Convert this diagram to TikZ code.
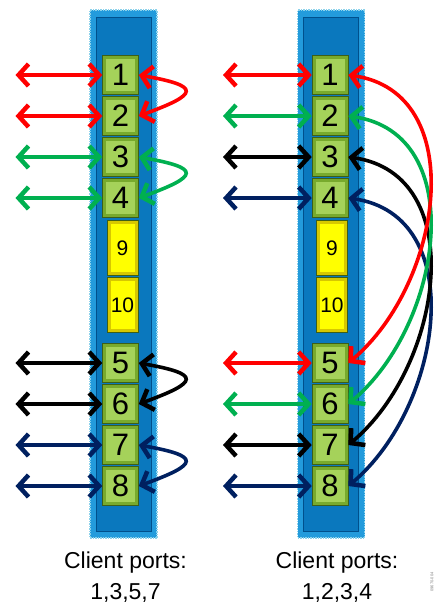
\documentclass[tikz,border=0pt]{standalone}
\usepackage{fontspec}
\setmainfont{Liberation Sans}
\usetikzlibrary{arrows.meta, calc}

\definecolor{barblue}{RGB}{35,155,220}
\definecolor{bardeep}{RGB}{10,120,190}
\definecolor{baredge}{RGB}{0,80,140}
\definecolor{barhalo}{RGB}{140,210,235}
\definecolor{portouter}{RGB}{120,170,45}
\definecolor{portface}{RGB}{165,210,90}
\definecolor{portline}{RGB}{60,95,25}
\definecolor{spareouter}{RGB}{215,200,0}
\definecolor{spareface}{RGB}{255,255,0}
\definecolor{fred}{RGB}{255,0,0}
\definecolor{fgreen}{RGB}{0,176,80}
\definecolor{fnavy}{RGB}{0,32,96}

\tikzstyle{bar} = [rectangle, minimum width=67, minimum height=528, fill=barblue, draw=barhalo, densely dotted, line width=1.5pt]
\tikzstyle{barin} = [rectangle, minimum width=55, minimum height=514, fill=bardeep, draw=baredge, line width=0.8pt]
\tikzstyle{port} = [rectangle, minimum width=36, minimum height=39, inner sep=0pt, fill=portouter, draw=portline, line width=0.6pt, font=\fontsize{31}{31}\selectfont,
	path picture={\fill[portface] ([shift={(3.5pt,-3.5pt)}]path picture bounding box.north west) rectangle ([shift={(-3.5pt,3.5pt)}]path picture bounding box.south east);}]
\tikzstyle{spare} = [rectangle, minimum width=31, minimum height=55, inner sep=0pt, fill=spareouter, draw=portline, line width=0.6pt, font=\fontsize{21}{21}\selectfont,
	path picture={\fill[spareface] ([shift={(3.5pt,-3.5pt)}]path picture bounding box.north west) rectangle ([shift={(-3.5pt,3.5pt)}]path picture bounding box.south east);}]
\tikzstyle{link} = [{Straight Barb[length=10pt,width=22pt,line width=4.5pt]}-{Straight Barb[length=10pt,width=22pt,line width=4.5pt]}, line width=3.6pt]
\tikzstyle{caption} = [align=center, font=\fontsize{23}{31}\selectfont]

\begin{document}
\begin{tikzpicture}[x=1pt, y=-1pt]
		\useasboundingbox (0,0) rectangle (441,603);
		
		% left card
		\node (lbar) [bar] at (123.5, 274) {};
		\node (lbarin) [barin] at (lbar) {};
		\node (l1) [port] at (120.5, 75) {1};
		\node (l2) [port] at ($(l1) + (0, 41)$) {2};
		\node (l3) [port] at ($(l2) + (0, 41)$) {3};
		\node (l4) [port] at ($(l3) + (0, 41)$) {4};
		\node (l9) [spare] at (122.5, 248) {9};
		\node (l10) [spare] at ($(l9) + (0, 57)$) {10};
		\node (l5) [port] at (120.5, 363) {5};
		\node (l6) [port] at ($(l5) + (0, 41)$) {6};
		\node (l7) [port] at ($(l6) + (0, 41)$) {7};
		\node (l8) [port] at ($(l7) + (0, 41)$) {8};
		
		% right card
		\node (rbar) [bar] at (331, 274) {};
		\node (rbarin) [barin] at (rbar) {};
		\node (r1) [port] at (330, 75) {1};
		\node (r2) [port] at ($(r1) + (0, 41)$) {2};
		\node (r3) [port] at ($(r2) + (0, 41)$) {3};
		\node (r4) [port] at ($(r3) + (0, 41)$) {4};
		\node (r9) [spare] at (332, 248) {9};
		\node (r10) [spare] at ($(r9) + (0, 57)$) {10};
		\node (r5) [port] at (330, 363) {5};
		\node (r6) [port] at ($(r5) + (0, 41)$) {6};
		\node (r7) [port] at ($(r6) + (0, 41)$) {7};
		\node (r8) [port] at ($(r7) + (0, 41)$) {8};
		
		% free ends of the client arrows
		\foreach \p in {1,...,8} {
			\coordinate (lc\p) at ($(l\p) + (-105, 0)$);
			\coordinate (rc\p) at ($(r\p) + (-107, 0)$);
		}
		
		\draw[link, fred] (lc1) -- (l1.west);
		\draw[link, fred] (lc2) -- (l2.west);
		\draw[link, fgreen] (lc3) -- (l3.west);
		\draw[link, fgreen] (lc4) -- (l4.west);
		\draw[link, black] (lc5) -- (l5.west);
		\draw[link, black] (lc6) -- (l6.west);
		\draw[link, fnavy] (lc7) -- (l7.west);
		\draw[link, fnavy] (lc8) -- (l8.west);
		
		\draw[link, fred] (l1.east) to[out=-10, in=20, looseness=4] (l2.east);
		\draw[link, fgreen] (l3.east) to[out=-10, in=20, looseness=4] (l4.east);
		\draw[link, black] (l5.east) to[out=-10, in=20, looseness=4] (l6.east);
		\draw[link, fnavy] (l7.east) to[out=-10, in=20, looseness=4] (l8.east);
		
		\draw[link, fred] (rc1) -- (r1.west);
		\draw[link, fgreen] (rc2) -- (r2.west);
		\draw[link, black] (rc3) -- (r3.west);
		\draw[link, fnavy] (rc4) -- (r4.west);
		\draw[link, fred] (rc5) -- (r5.west);
		\draw[link, fgreen] (rc6) -- (r6.west);
		\draw[link, black] (rc7) -- (r7.west);
		\draw[link, fnavy] (rc8) -- (r8.west);
		
		\draw[link, fnavy] (r4.east) to[out=-8, in=40, looseness=1.1] (r8.east);
		\draw[link, black] (r3.east) to[out=-8, in=40, looseness=1.1] (r7.east);
		\draw[link, fgreen] (r2.east) to[out=-8, in=40, looseness=1.1] (r6.east);
		\draw[link, fred] (r1.east) to[out=-8, in=40, looseness=1.1] (r5.east);
		
		\node (lcap) [caption] at (125.5, 577) {Client ports:\\1,3,5,7};
		\node (rcap) [caption] at (337, 577) {Client ports:\\1,2,3,4};
		\node (figid) [rotate=90, text=gray, font=\fontsize{4}{4}\selectfont] at (432, 582) {09670-004};
	\end{tikzpicture}
\end{document}
